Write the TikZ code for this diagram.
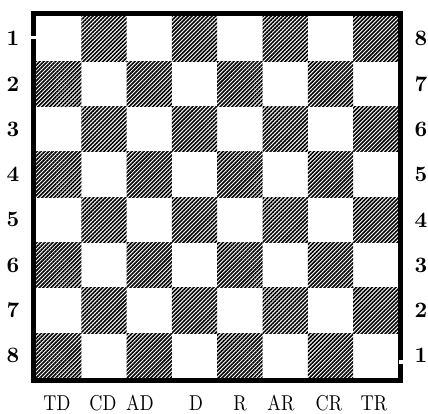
\documentclass[tikz,border=0pt]{standalone}
\usetikzlibrary{patterns.meta}
\begin{document}
\begin{tikzpicture}[x=1pt,y=1pt,
  dark/.style={pattern={Lines[angle=45,distance=2.8pt,line width=1.6pt]}},
  frame/.style={line width=5pt},
  rank/.style={font=\bfseries, scale=2.2},
  file/.style={xscale=1.82, yscale=2.15}
]
\useasboundingbox (0,0) rectangle (428,414);
% squares
\foreach \r in {0,...,7}
  \foreach \c in {0,...,7}{
    \pgfmathparse{int(mod(\r+\c,2))}
    \ifnum\pgfmathresult=1
      \fill[dark] ({36+\c*45.3},{398-(\r+1)*45.3}) rectangle ({36+(\c+1)*45.3},{398-\r*45.3});
    \fi
  }
% frame
\draw[frame] (33.5,33.1) rectangle (400.9,400.5);
\fill[white] (30,375) rectangle (37,377.5);
\fill[white] (398.6,50) rectangle (404,54);
% ranks
\foreach \n in {1,...,8}{
  \node[rank] (left\n) at (13,{398-(\n-0.5)*45.3}) {\n};
  \node[rank] (right\n) at (421,{398-(8.5-\n)*45.3}) {\n};
}
% files
\node[file] (td) at (57,11) {TD};
\node[file] (cd) at (103,11) {CD};
\node[file] (ad) at (140,11) {AD};
\node[file] (d) at (196,11) {D};
\node[file] (r) at (240,11) {R};
\node[file] (ar) at (281,11) {AR};
\node[file] (cr) at (329,11) {CR};
\node[file] (tr) at (374,11) {TR};
\end{tikzpicture}
\end{document}
